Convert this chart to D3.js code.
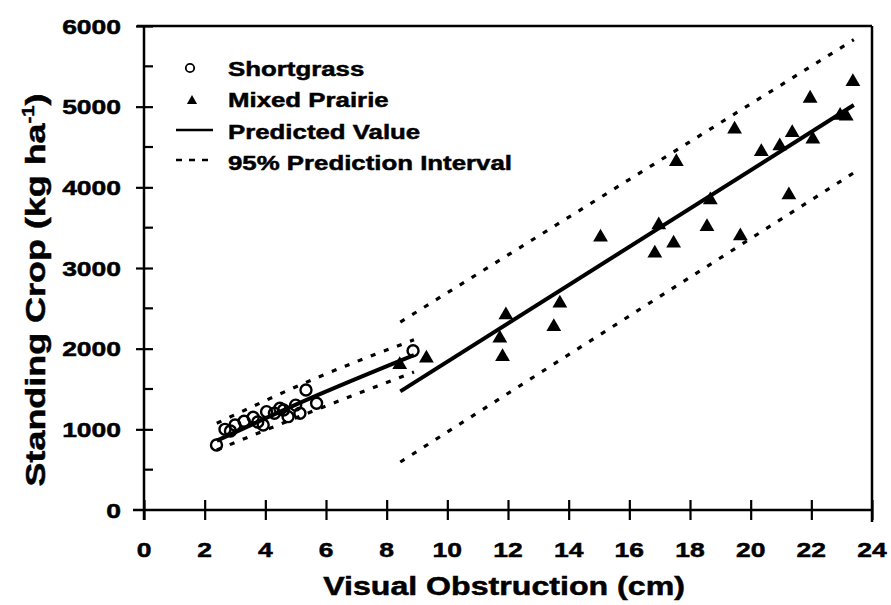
<!DOCTYPE html>
<html><head><meta charset="utf-8">
<script src="https://cdn.jsdelivr.net/npm/d3@7"></script>
<style>body{margin:0;background:#fff}svg{display:block}</style>
</head><body>
<svg id="c" width="891" height="605"></svg>
<script>
// ---- data ----
const xTicks = [0,2,4,6,8,10,12,14,16,18,20,22,24];
const yTicks = [0,1000,2000,3000,4000,5000,6000];
const yMinorTicks = [500,1500,2500,3500,4500,5500];

const shortX = [2.39,2.67,2.85,3.0,3.3,3.6,3.75,3.93,4.04,4.3,4.48,4.6,4.75,5.0,5.14,5.34,5.69,8.87];
const shortY = [806,1000,980,1054,1100,1149,1090,1054,1219,1200,1261,1240,1157,1300,1199,1488,1323,1975];

const mixedX = [8.43,9.31,11.73,11.82,11.93,13.51,13.71,15.05,16.84,16.97,17.46,17.55,18.56,18.67,19.47,19.66,20.35,20.96,21.26,21.37,21.96,22.05,22.95,23.15,23.37];
const mixedY = [1800,1880,2128,1900,2417,2272,2562,3380,3182,3533,3306,4318,3512,3843,4719,3397,4442,4512,3905,4677,5103,4595,4890,4880,5309];

const shortLineX = [2.4,5.7,8.9];
const shortPredY = [860,1420,1920];
const shortUpperY = [1075,1640,2110];
const shortLowerY = [745,1245,1710];

const mixedLineX = [8.45,23.4];
const mixedPredY = [1470,5020];
const mixedUpperY = [2330,5830];
const mixedLowerY = [595,4180];

const legendLabels = ["Shortgrass","Mixed Prairie","Predicted Value","95% Prediction Interval"];

// ---- drawing ----
const svg = d3.select("#c");
const x = d3.scaleLinear().domain([0,24]).range([144,872]);
const y = d3.scaleLinear().domain([0,6000]).range([510,26]);
const FONT = "'Liberation Sans', Arial, sans-serif";
const WIDE = 1.26;

function wtext(str, tx, ty, size, anchor, rot) {
  const g = svg.append("g").attr("transform", `translate(${tx},${ty}) rotate(${rot||0}) scale(${WIDE},1)`);
  const t = g.append("text").attr("font-family", FONT).attr("font-weight","bold")
    .attr("font-size", size).attr("text-anchor", anchor||"start").attr("fill","#000")
    .attr("stroke","#000").attr("stroke-width",0.5).text(str);
  return t;
}

// frame
svg.append("line").attr("x1",137).attr("x2",x(24)).attr("y1",y(6000)).attr("y2",y(6000)).attr("stroke","#000").attr("stroke-width",2.5);
svg.append("line").attr("x1",x(24)).attr("x2",x(24)).attr("y1",y(6000)).attr("y2",522).attr("stroke","#000").attr("stroke-width",2.5);

// axes via d3
const xAxis = svg.append("g").attr("transform",`translate(0,${y(0)})`)
  .call(d3.axisBottom(x).tickValues(xTicks).tickSize(10).tickSizeOuter(0).tickFormat(""));
xAxis.select(".domain").attr("stroke-width",2.5).attr("d",`M133,0H${x(24)}`);
xAxis.selectAll(".tick line").attr("y1",-10).attr("y2",10).attr("stroke-width",2.2);

const yAxis = svg.append("g").attr("transform",`translate(${x(0)},0)`)
  .call(d3.axisLeft(y).tickValues(yTicks).tickSize(9).tickSizeOuter(0).tickFormat(""));
yAxis.select(".domain").attr("stroke-width",2.5).attr("d",`M0,${y(6000)}V520`);
yAxis.selectAll(".tick line").attr("x1",-8).attr("x2",9).attr("stroke-width",2.2);
yAxis.selectAll(".tick").filter(d=>d===0).select("line").remove();

svg.append("g").selectAll("line").data(yMinorTicks).join("line")
  .attr("x1",x(0)).attr("x2",x(0)+9).attr("y1",d=>y(d)).attr("y2",d=>y(d))
  .attr("stroke","#000").attr("stroke-width",2.2);

// tick labels
xTicks.forEach(v => wtext(String(v), x(v), 557, 21, "middle"));
yTicks.forEach(v => wtext(String(v), 121, y(v)+7.5, 21, "end"));

// axis titles
wtext("Visual Obstruction (cm)", 504, 595, 25.5, "middle");
const yt = wtext("", 45, 290, 28.5, "middle", -90);
yt.append("tspan").text("Standing Crop (kg ha");
yt.append("tspan").attr("font-size",16).attr("dy",-11).text("-1");
yt.append("tspan").attr("dy",11).text(")");

// lines
const line = d3.line().x(d=>x(d[0])).y(d=>y(d[1])).curve(d3.curveNatural);
function drawLine(xs, ys, dashed) {
  const p = svg.append("path").datum(xs.map((v,i)=>[v,ys[i]])).attr("d",line)
    .attr("fill","none").attr("stroke","#000");
  if (dashed) p.attr("stroke-width",3.2).attr("stroke-dasharray","5,9");
  else p.attr("stroke-width",4);
}
drawLine(shortLineX, shortUpperY, true);
drawLine(shortLineX, shortLowerY, true);
drawLine(shortLineX, shortPredY, false);
drawLine(mixedLineX, mixedUpperY, true);
drawLine(mixedLineX, mixedLowerY, true);
drawLine(mixedLineX, mixedPredY, false);

// points
const tri = d3.symbol().type(d3.symbolTriangle).size(95);
svg.append("g").selectAll("path").data(mixedX.map((v,i)=>[v,mixedY[i]])).join("path")
  .attr("d",tri).attr("transform",d=>`translate(${x(d[0])},${y(d[1])})`).attr("fill","#000");
svg.append("g").selectAll("circle").data(shortX.map((v,i)=>[v,shortY[i]])).join("circle")
  .attr("cx",d=>x(d[0])).attr("cy",d=>y(d[1])).attr("r",5.5)
  .attr("fill","none").attr("stroke","#000").attr("stroke-width",2.4);

// legend
const lg = svg.append("g");
lg.append("circle").attr("cx",190).attr("cy",68).attr("r",4.2).attr("fill","none").attr("stroke","#000").attr("stroke-width",1.8);
lg.append("path").attr("d",d3.symbol().type(d3.symbolTriangle).size(45)).attr("transform","translate(192,101)");
lg.append("line").attr("x1",176).attr("x2",213).attr("y1",130).attr("y2",130).attr("stroke","#000").attr("stroke-width",2.5);
lg.append("line").attr("x1",176).attr("x2",210).attr("y1",160).attr("y2",160).attr("stroke","#000").attr("stroke-width",2.5).attr("stroke-dasharray","6,7");
const ly = [76,107,139,170];
legendLabels.forEach((s,i)=>wtext(s, 228, ly[i], 20.5, "start"));
</script>
</body></html>
